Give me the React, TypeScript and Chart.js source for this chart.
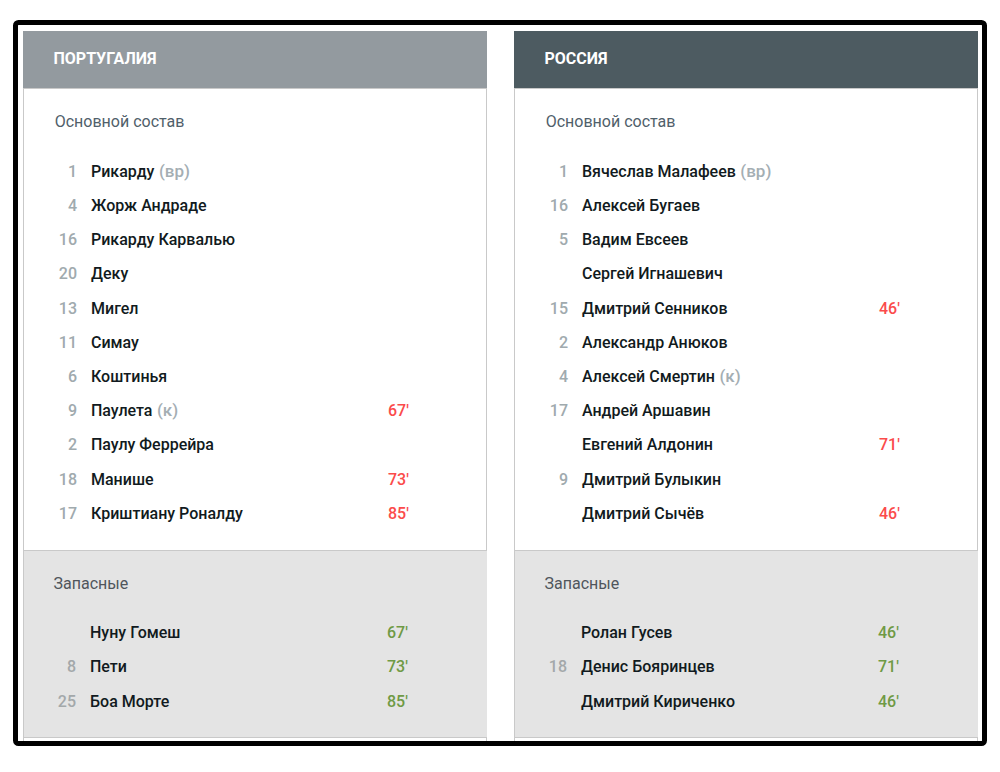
import React, { useEffect, useRef } from "react";
import { Chart, registerables } from "chart.js";

Chart.register(...registerables);

const teams = ["ПОРТУГАЛИЯ", "РОССИЯ"];
const startTitle = "Основной состав";
const benchTitle = "Запасные";

const portugalNumbers = ["1", "4", "16", "20", "13", "11", "6", "9", "2", "18", "17"];
const portugalNames = [
  "Рикарду",
  "Жорж Андраде",
  "Рикарду Карвалью",
  "Деку",
  "Мигел",
  "Симау",
  "Коштинья",
  "Паулета",
  "Паулу Феррейра",
  "Манише",
  "Криштиану Роналду",
];
const portugalRoles = ["(вр)", "", "", "", "", "", "", "(к)", "", "", ""];
const portugalOff = ["", "", "", "", "", "", "", "67'", "", "73'", "85'"];
const portugalBenchNumbers = ["", "8", "25"];
const portugalBenchNames = ["Нуну Гомеш", "Пети", "Боа Морте"];
const portugalBenchOn = ["67'", "73'", "85'"];

const russiaNumbers = ["1", "16", "5", "", "15", "2", "4", "17", "", "9", ""];
const russiaNames = [
  "Вячеслав Малафеев",
  "Алексей Бугаев",
  "Вадим Евсеев",
  "Сергей Игнашевич",
  "Дмитрий Сенников",
  "Александр Анюков",
  "Алексей Смертин",
  "Андрей Аршавин",
  "Евгений Алдонин",
  "Дмитрий Булыкин",
  "Дмитрий Сычёв",
];
const russiaRoles = ["(вр)", "", "", "", "", "", "(к)", "", "", "", ""];
const russiaOff = ["", "", "", "", "46'", "", "", "", "71'", "", "46'"];
const russiaBenchNumbers = ["", "18", ""];
const russiaBenchNames = ["Ролан Гусев", "Денис Бояринцев", "Дмитрий Кириченко"];
const russiaBenchOn = ["46'", "71'", "46'"];

const FONT = "Roboto, sans-serif";
const ROW = 34.2;
const NAME_FONT = `500 16px ${FONT}`;

const lineup = [
  {
    dx: 0,
    head: "#939a9f",
    team: teams[0],
    numbers: portugalNumbers,
    names: portugalNames,
    roles: portugalRoles,
    off: portugalOff,
    benchNumbers: portugalBenchNumbers,
    benchNames: portugalBenchNames,
    on: portugalBenchOn,
  },
  {
    dx: 491,
    head: "#4d5b61",
    team: teams[1],
    numbers: russiaNumbers,
    names: russiaNames,
    roles: russiaRoles,
    off: russiaOff,
    benchNumbers: russiaBenchNumbers,
    benchNames: russiaBenchNames,
    on: russiaBenchOn,
  },
];

// Everything is placed through the x/y scales, which run in page pixels
const sheetPlugin = {
  id: "sheet",
  beforeDraw(chart: any) {
    const { ctx, scales } = chart;
    const X = (v: number) => scales.x.getPixelForValue(v);
    const Y = (v: number) => scales.y.getPixelForValue(v);

    const rect = (x0: number, y0: number, x1: number, y1: number, fill: string) => {
      ctx.fillStyle = fill;
      ctx.fillRect(X(x0), Y(y0), X(x1) - X(x0), Y(y1) - Y(y0));
    };
    const text = (s: string, x: number, y: number, font: string, color: string, align = "left") => {
      ctx.font = font;
      ctx.fillStyle = color;
      ctx.textAlign = align;
      ctx.textBaseline = "middle";
      ctx.fillText(s, X(x), Y(y));
    };

    rect(0, 0, 1000, 772, "#ffffff");

    for (const t of lineup) {
      const d = t.dx;
      // panel
      rect(23 + d, 31, 487 + d, 741, "#c9c9c9");
      rect(24 + d, 89, 486 + d, 550, "#ffffff");
      rect(24 + d, 551, 487 + d, 737, "#e4e4e4");
      rect(24 + d, 738, 486 + d, 741, "#ffffff");
      rect(23 + d, 31, 487 + d, 88, t.head);

      text(t.team, 53.5 + d, 60, `bold 16px ${FONT}`, "#ffffff");
      text(startTitle, 54.7 + d, 122.5, `16px ${FONT}`, "#50606a");
      text(benchTitle, 53.5 + d, 585, `16px ${FONT}`, "#50565c");

      t.names.forEach((name, i) => {
        const y = 172.8 + i * ROW;
        text(t.numbers[i], 77 + d, y, NAME_FONT, "#a0aaae", "right");
        text(name, 91 + d, y, NAME_FONT, "#111a20");
        if (t.roles[i]) {
          const w = ctx.measureText(name + " ").width;
          text(t.roles[i], 91.5 + d + w, y, `500 17px ${FONT}`, "#a4aeb3");
        }
        if (t.off[i]) text(t.off[i], 388 + d, y, NAME_FONT, "#fb4b4b");
      });

      t.benchNames.forEach((name, i) => {
        const y = 634.1 + i * ROW;
        text(t.benchNumbers[i], 76 + d, y, NAME_FONT, "#a3a8aa", "right");
        text(name, 90 + d, y, NAME_FONT, "#111a20");
        text(t.on[i], 387 + d, y, NAME_FONT, "#6f9a45");
      });
    }

    // black frame round the screenshot
    ctx.strokeStyle = "#000000";
    ctx.lineWidth = X(5) - X(0);
    ctx.beginPath();
    ctx.roundRect(X(15.5), Y(22.5), X(969), Y(721) - Y(0), 3);
    ctx.stroke();
  },
};

export default function App() {
  const canvasRef = useRef<HTMLCanvasElement | null>(null);

  useEffect(() => {
    const canvas = canvasRef.current;
    if (!canvas) return;
    // opaque canvas so the text gets the same subpixel rendering as the screenshot
    canvas.getContext("2d", { alpha: false });

    const chart = new Chart(canvas, {
      type: "scatter",
      data: { datasets: [] },
      options: {
        responsive: false,
        animation: false,
        devicePixelRatio: 1,
        layout: { padding: 0 },
        plugins: { legend: { display: false }, tooltip: { enabled: false } },
        scales: {
          x: { type: "linear", min: 0, max: 1000, display: false },
          y: { type: "linear", min: 0, max: 772, reverse: true, display: false },
        },
      },
      plugins: [sheetPlugin],
    });

    return () => chart.destroy();
  }, []);

  return (
    <div style={{ position: "absolute", left: 0, top: 0, width: 1000, height: 772 }}>
      <canvas ref={canvasRef} width={1000} height={772} style={{ display: "block" }} />
    </div>
  );
}
